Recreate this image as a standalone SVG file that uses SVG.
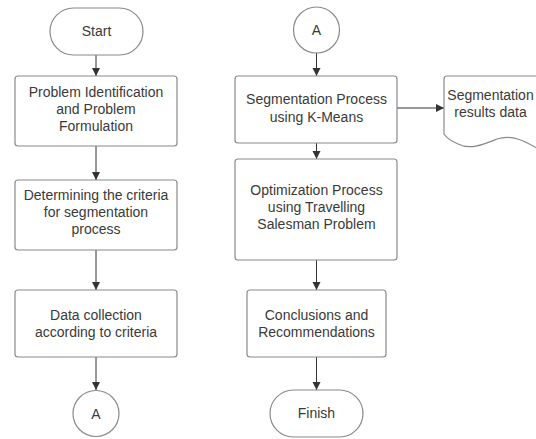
<svg xmlns="http://www.w3.org/2000/svg" width="536" height="439" viewBox="0 0 536 439">
<defs>
<marker id="ah" markerWidth="10" markerHeight="10" refX="9" refY="5" orient="auto" markerUnits="userSpaceOnUse">
<path d="M1,1 L9,5 L1,9 Z" fill="#333"/>
</marker>
<style>
.shape{fill:#fff;stroke:#8a8a8a;stroke-width:1.2}
.lbl{font-family:"Liberation Sans",Arial,sans-serif;font-size:14px;fill:#3a3a3a;text-anchor:middle}
.conn{stroke:#333;stroke-width:1;fill:none;marker-end:url(#ah)}
</style>
</defs>
<rect width="536" height="439" fill="#fff"/>
<g id="connectors">
<line class="conn" x1="96" y1="55" x2="96" y2="76"/>
<line class="conn" x1="96" y1="146" x2="96" y2="180"/>
<line class="conn" x1="96" y1="250" x2="96" y2="290"/>
<line class="conn" x1="96" y1="357" x2="96" y2="390"/>
<line class="conn" x1="316.5" y1="53" x2="316.5" y2="76"/>
<line class="conn" x1="397" y1="108" x2="444" y2="108"/>
<line class="conn" x1="316.5" y1="143" x2="316.5" y2="159"/>
<line class="conn" x1="316.5" y1="260" x2="316.5" y2="290"/>
<line class="conn" x1="316.5" y1="357" x2="316.5" y2="390"/>
</g>
<g id="start">
<rect class="shape" x="50" y="8" width="93" height="47" rx="23.5"/>
<text class="lbl" x="96.5" y="36">Start</text>
</g>
<g id="problem">
<rect class="shape" x="15" y="76" width="162" height="70" rx="3"/>
<text class="lbl" x="96" y="97">Problem Identification</text>
<text class="lbl" x="96" y="114">and Problem</text>
<text class="lbl" x="96" y="131">Formulation</text>
</g>
<g id="criteria">
<rect class="shape" x="15" y="180" width="162" height="70" rx="3"/>
<text class="lbl" x="96" y="200">Determining the criteria</text>
<text class="lbl" x="96" y="217">for segmentation</text>
<text class="lbl" x="96" y="234">process</text>
</g>
<g id="collection">
<rect class="shape" x="15" y="290" width="162" height="67" rx="3"/>
<text class="lbl" x="96" y="320">Data collection</text>
<text class="lbl" x="96" y="337">according to criteria</text>
</g>
<g id="connA1">
<circle class="shape" cx="96" cy="413.5" r="23"/>
<text class="lbl" x="96" y="418.5">A</text>
</g>
<g id="connA2">
<circle class="shape" cx="316.5" cy="30" r="23"/>
<text class="lbl" x="316.5" y="35">A</text>
</g>
<g id="kmeans">
<rect class="shape" x="235" y="76" width="162" height="67" rx="3"/>
<text class="lbl" x="316.5" y="104">Segmentation Process</text>
<text class="lbl" x="316.5" y="122">using K-Means</text>
</g>
<g id="results">
<path class="shape" d="M444,79 Q444,76 447,76 L540,76 L540,150 C525,141 512,134 497,139 C482,145 470,150 458,144 C451,141 446,137 444,134 Z"/>
<text class="lbl" x="490.5" y="100">Segmentation</text>
<text class="lbl" x="490.5" y="117">results data</text>
</g>
<g id="tsp">
<rect class="shape" x="235" y="159" width="162" height="101" rx="3"/>
<text class="lbl" x="316.5" y="195">Optimization Process</text>
<text class="lbl" x="316.5" y="212">using Travelling</text>
<text class="lbl" x="316.5" y="229">Salesman Problem</text>
</g>
<g id="conclusions">
<rect class="shape" x="247" y="290" width="139" height="67" rx="3"/>
<text class="lbl" x="316.5" y="320">Conclusions and</text>
<text class="lbl" x="316.5" y="337">Recommendations</text>
</g>
<g id="finish">
<rect class="shape" x="270" y="390" width="93" height="47" rx="23.5"/>
<text class="lbl" x="316.5" y="418">Finish</text>
</g>
</svg>
